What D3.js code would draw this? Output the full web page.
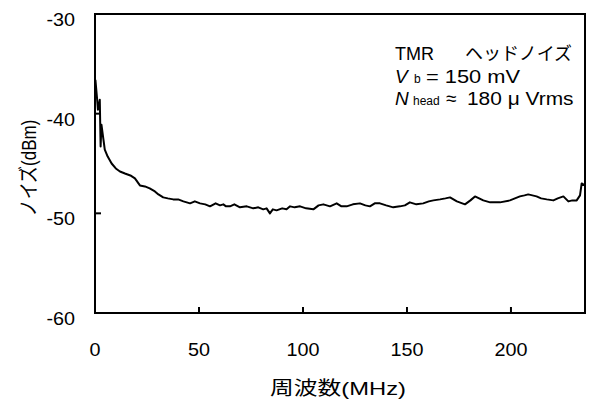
<!DOCTYPE html>
<html><head><meta charset="utf-8">
<script src="https://cdn.jsdelivr.net/npm/d3@7"></script>
<style>
body{margin:0;background:#fff;}
text{font-family:"Liberation Sans","Noto Sans CJK JP",sans-serif;fill:#000;}
</style></head>
<body><svg id="c" width="589" height="400"></svg>
<script>
const freqMHz = [0.2,1.0,1.4,2.0,2.3,2.7,3.1,4.0,4.7,6.1,8.0,10.0,12.0,14.4,17.0,19.2,21.6,24.0,26.3,28.8,30.5,32.8,35.0,37.6,40.0,42.5,45.7,48.0,50.5,53.0,55.3,58.0,60.1,61.7,63.0,64.9,67.0,69.7,73.0,76.1,78.5,80.9,82.5,84.1,85.5,87.3,90.0,92.1,93.8,96.0,98.6,101.5,105.0,107.5,109.8,113.0,116.2,118.5,121.0,124.0,127.4,130.0,132.2,134.5,137.0,140.0,143.4,146.6,149.0,151.4,154.5,157.8,160.5,162.7,165.9,168.5,170.7,174.0,177.9,180.5,182.7,186.7,190.0,194.7,199.5,204.3,206.5,208.3,212.3,214.5,217.2,220.4,222.5,225.2,227.6,229.5,231.6,233.2,234.0,235.5];
const noiseDBm = [-36.6,-38.5,-39.6,-39.0,-38.6,-43.3,-41.1,-42.5,-43.6,-44.3,-45.0,-45.5,-45.8,-46.0,-46.2,-46.5,-47.2,-47.3,-47.5,-47.8,-48.1,-48.4,-48.5,-48.6,-48.6,-48.8,-49.0,-48.8,-49.0,-49.1,-49.3,-49.0,-49.2,-49.1,-49.3,-49.3,-49.1,-49.4,-49.3,-49.5,-49.4,-49.6,-49.5,-50.0,-49.6,-49.7,-49.5,-49.6,-49.3,-49.4,-49.3,-49.5,-49.6,-49.2,-49.1,-49.3,-49.0,-49.3,-49.3,-49.1,-49.0,-49.2,-49.3,-49.0,-49.0,-49.2,-49.4,-49.3,-49.2,-48.9,-49.1,-49.0,-48.8,-48.7,-48.6,-48.5,-48.4,-48.8,-49.1,-48.7,-48.3,-48.7,-48.9,-48.9,-48.7,-48.3,-48.2,-48.1,-48.3,-48.5,-48.6,-48.7,-48.5,-48.3,-48.8,-48.7,-48.7,-48.2,-47.0,-47.2];
const xTicks = [0,50,100,150,200];
const yTicks = [-60,-50,-40,-30];
const xTitle = "周波数(MHz)";
const yTitle = "ノイズ(dBm)";

const svg = d3.select("#c");
const L=95,R=585,T=14,B=313;
const x = d3.scaleLinear().domain([0,235.6]).range([L,R]);
const y = d3.scaleLinear().domain([-60,-30]).range([B,T]);

// x ticks (inside)
svg.append("g").selectAll("line").data(xTicks).join("line")
  .attr("x1",d=>x(d)).attr("x2",d=>x(d)).attr("y1",B).attr("y2",B-6)
  .attr("stroke","#000").attr("stroke-width",2);
svg.append("g").selectAll("text").data(xTicks).join("text")
  .attr("transform",d=>`translate(${x(d)},356) scale(1.1,1)`).attr("text-anchor","middle")
  .attr("font-size",18).text(d=>d);
// y ticks (inside)
svg.append("g").selectAll("line").data(yTicks).join("line")
  .attr("x1",L).attr("x2",L+6).attr("y1",d=>y(d)).attr("y2",d=>y(d))
  .attr("stroke","#000").attr("stroke-width",2);
svg.append("g").selectAll("text").data(yTicks).join("text")
  .attr("transform",d=>`translate(75,${y(d)+12}) scale(1.1,1)`).attr("text-anchor","end")
  .attr("font-size",18).text(d=>d);

// data line
svg.append("path").datum(freqMHz.map((f,i)=>[f,noiseDBm[i]]))
  .attr("d",d3.line().x(d=>x(d[0])).y(d=>y(d[1])))
  .attr("fill","none").attr("stroke","#000").attr("stroke-width",2).attr("stroke-linejoin","round");

// frame
svg.append("rect").attr("x",L).attr("y",T).attr("width",R-L).attr("height",B-T)
  .attr("fill","none").attr("stroke","#000").attr("stroke-width",2);

// titles
svg.append("text").attr("transform","translate(338,395) scale(1.25,1)").attr("text-anchor","middle")
  .attr("font-size",19).text(xTitle);
svg.append("text").attr("transform","translate(36,168) rotate(-90) scale(1,1.2)")
  .attr("text-anchor","middle").attr("font-size",17).text(yTitle);

// annotation
const a1 = svg.append("text").attr("font-size",18);
a1.append("tspan").attr("x",395).attr("y",60).text("TMR");
a1.append("tspan").attr("x",465).attr("y",60).text("ヘッドノイズ");
const a2 = svg.append("text").attr("font-size",19);
a2.append("tspan").attr("x",395).attr("y",83).attr("font-style","italic").text("V");
a2.append("tspan").attr("x",414).attr("y",83).attr("font-size",12).text("b");
svg.append("text").attr("transform","translate(426,83) scale(1.15,1)").attr("font-size",19).text("= 150 mV");
const a3 = svg.append("text").attr("font-size",19);
a3.append("tspan").attr("x",395).attr("y",105).attr("font-style","italic").text("N");
a3.append("tspan").attr("x",413).attr("y",105).attr("font-size",12).text("head");
a3.append("tspan").attr("x",446).attr("y",105).text("≈");
svg.append("text").attr("transform","translate(467,105) scale(1.1,1)").attr("font-size",19).text("180 μ Vrms");
</script></body></html>
